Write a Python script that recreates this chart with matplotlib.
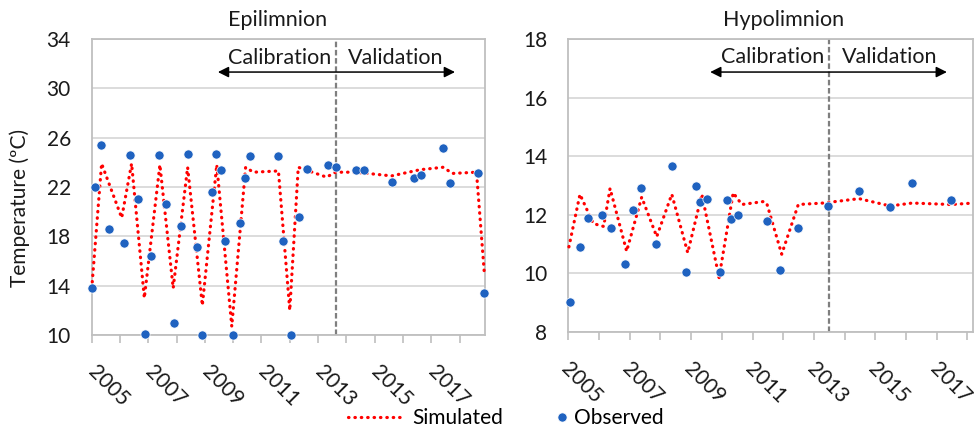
import matplotlib
matplotlib.use("Agg")
import matplotlib.pyplot as plt
import matplotlib.transforms as mtransforms
from matplotlib.lines import Line2D

plt.rcParams['font.family'] = ['Lato', 'DejaVu Sans']

# ---------------- data ----------------
# Epilimnion
epi_obs_x = [2005.02, 2005.12, 2005.33, 2005.62, 2006.14, 2006.35, 2006.65, 2006.88,
             2007.10, 2007.39, 2007.63, 2007.91, 2008.14, 2008.41, 2008.71, 2008.89,
             2009.24, 2009.39, 2009.56, 2009.71, 2010.00, 2010.24, 2010.42, 2010.58,
             2011.57, 2011.77, 2012.03, 2012.34, 2012.60, 2013.36, 2013.62, 2014.34,
             2014.62, 2015.60, 2016.39, 2016.63, 2017.42, 2017.66, 2018.66, 2018.88]
epi_obs_y = [13.8, 22.0, 25.4, 18.6, 17.5, 24.6, 21.0, 10.1,
             16.4, 24.6, 20.6, 11.0, 18.8, 24.7, 17.1, 10.0,
             21.6, 24.7, 23.4, 17.6, 10.0, 19.1, 22.7, 24.5,
             24.5, 17.6, 10.0, 19.6, 23.5, 23.8, 23.6, 23.4,
             23.4, 22.4, 22.7, 23.0, 25.2, 22.3, 23.1, 13.4]
epi_sim_x = [2005.02, 2005.35, 2006.06, 2006.41, 2006.86, 2007.41, 2007.88, 2008.39,
             2008.91, 2009.42, 2009.95, 2010.44, 2010.71, 2011.60, 2012.00, 2012.30,
             2013.30, 2013.62, 2014.33, 2015.60, 2016.60, 2017.42, 2017.75, 2018.60,
             2018.88]
epi_sim_y = [14.3, 23.9, 19.5, 23.9, 13.0, 23.8, 13.8, 23.6,
             12.4, 23.8, 10.7, 23.6, 23.2, 23.3, 12.0, 23.6,
             22.8, 23.2, 23.2, 22.9, 23.4, 23.6, 23.1, 23.2,
             14.9]

# Hypolimnion
hyp_obs_x = [2005.06, 2005.38, 2005.63, 2006.11, 2006.39, 2006.85, 2007.11, 2007.38,
             2007.86, 2008.38, 2008.83, 2009.16, 2009.30, 2009.53, 2009.95, 2010.16,
             2010.30, 2010.53, 2011.47, 2011.90, 2012.47, 2013.47, 2014.47, 2015.48,
             2016.20, 2017.46]
hyp_obs_y = [9.0, 10.9, 11.9, 12.0, 11.55, 10.3, 12.15, 12.9,
             11.0, 13.65, 10.05, 13.0, 12.45, 12.55, 10.05, 12.5,
             11.85, 12.0, 11.8, 10.1, 11.55, 12.3, 12.8, 12.25,
             13.1, 12.5]
hyp_sim_x = [2005.02, 2005.38, 2005.81, 2006.15, 2006.36, 2006.90, 2007.39, 2007.88,
             2008.37, 2008.89, 2009.35, 2009.91, 2010.37, 2010.65, 2011.35, 2011.46,
             2011.95, 2012.49, 2013.30, 2014.47, 2015.48, 2016.20, 2017.46, 2018.20]
hyp_sim_y = [10.9, 12.7, 11.7, 11.6, 12.9, 10.75, 12.6, 11.25,
             12.7, 10.7, 12.7, 9.85, 12.75, 12.35, 12.45, 12.4,
             10.65, 12.35, 12.4, 12.55, 12.3, 12.4, 12.35, 12.4]

years_major = [2005, 2007, 2009, 2011, 2013, 2015, 2017]
split_epi = 2013.62
split_hyp = 2013.48

# ---------------- style ----------------
RED = '#ff0000'
BLUE = '#1f62c0'
GRID = '#d9d9d9'
SPINE = '#bfbfbf'
TXT = '#1a1a1a'
FS = 15
DOTS = (0, (0.15, 1.85))

W, H = 974, 429
fig = plt.figure(figsize=(W / 100, H / 100), dpi=100)


def px_axes(x0, y0, x1, y1):
    return fig.add_axes([x0 / W, 1 - y1 / H, (x1 - x0) / W, (y1 - y0) / H])


ax1 = px_axes(91.7, 39, 485, 335)
ax2 = px_axes(568.3, 39.3, 973, 331.7)


def style(ax, xlim, ylim, yticks, split, arrow_x, arrow_y, text_y, xshift):
    ax.set_xlim(*xlim)
    ax.set_ylim(*ylim)
    ax.set_yticks(yticks)
    ax.set_xticks(years_major)
    ax.set_xticks(range(2005, int(xlim[1]) + 1), minor=True)
    ax.grid(axis='y', color=GRID, lw=1.3)
    ax.set_axisbelow(True)
    for s in ax.spines.values():
        s.set_color(SPINE)
        s.set_linewidth(1.3)
    ax.tick_params(axis='y', length=0, pad=15, labelsize=FS, colors=TXT)
    ax.tick_params(axis='x', which='both', length=6, color=SPINE, width=1.2,
                   direction='out')
    ax.tick_params(axis='x', which='major', labelsize=FS, pad=18.5)
    off = mtransforms.ScaledTranslation(xshift / 100, 0, fig.dpi_scale_trans)
    for lab in ax.get_xticklabels():
        lab.set_rotation(-45)
        lab.set_ha('left')
        lab.set_va('center')
        lab.set_rotation_mode('anchor')
        lab.set_color(TXT)
        lab.set_transform(lab.get_transform() + off)
    ax.axvline(split, color='#7f7f7f', lw=1.6, ls=(0, (2.5, 1.2)), zorder=1)
    ax.annotate('', xy=(arrow_x[0], arrow_y), xytext=(arrow_x[1], arrow_y),
                arrowprops=dict(arrowstyle='<|-|>', color='black', lw=1.1,
                                mutation_scale=16, shrinkA=0, shrinkB=0))
    ax.text(split - (xlim[1] - xlim[0]) * 0.012, text_y, 'Calibration',
            ha='right', va='center', fontsize=FS + 0.5, color=TXT)
    ax.text(split + (xlim[1] - xlim[0]) * 0.032, text_y, 'Validation',
            ha='left', va='center', fontsize=FS + 0.5, color=TXT)


style(ax1, (2005, 2018.9), (10, 34), [10, 14, 18, 22, 26, 30, 34], split_epi,
      (2009.46, 2017.84), 31.32, 32.45, 0)
style(ax2, (2005, 2018.18), (8, 18), [8, 10, 12, 14, 16, 18], split_hyp,
      (2009.62, 2017.33), 16.88, 17.38, -4)

for ax, sx, sy, ox, oy in [(ax1, epi_sim_x, epi_sim_y, epi_obs_x, epi_obs_y),
                           (ax2, hyp_sim_x, hyp_sim_y, hyp_obs_x, hyp_obs_y)]:
    ax.plot(sx, sy, color=RED, lw=2.3, ls=DOTS, dash_capstyle='round',
            zorder=3, clip_on=False)
    ax.plot(ox, oy, 'o', color=BLUE, ms=6.6, mec='white', mew=0.5, zorder=4,
            clip_on=False)

fig.text(277.5 / W, 1 - 20 / H, 'Epilimnion', ha='center', va='center',
         fontsize=FS + 0.5, color=TXT)
fig.text(784 / W, 1 - 20 / H, 'Hypolimnion', ha='center', va='center',
         fontsize=FS + 0.5, color=TXT)
fig.text(20 / W, 1 - 208 / H, 'Temperature (ºC)', rotation=90, ha='center',
         va='center', fontsize=FS, color=TXT)

h_sim = Line2D([], [], color=RED, lw=2.3, ls=DOTS, dash_capstyle='round')
h_obs = Line2D([], [], marker='o', ls='none', color=BLUE, ms=6.6, mec='white',
               mew=0.5)
fig.legend([h_sim], ['Simulated'], loc='center left',
           bbox_to_anchor=(348 / W, 1 - 418 / H), frameon=False, fontsize=FS,
           handlelength=2.64, handletextpad=0.43, borderpad=0, borderaxespad=0)
fig.legend([h_obs], ['Observed'], loc='center left',
           bbox_to_anchor=(554 / W, 1 - 418 / H), frameon=False, fontsize=FS,
           handlelength=0.8, handletextpad=0.15, borderpad=0, borderaxespad=0)

fig.savefig('out.png', dpi=100)
